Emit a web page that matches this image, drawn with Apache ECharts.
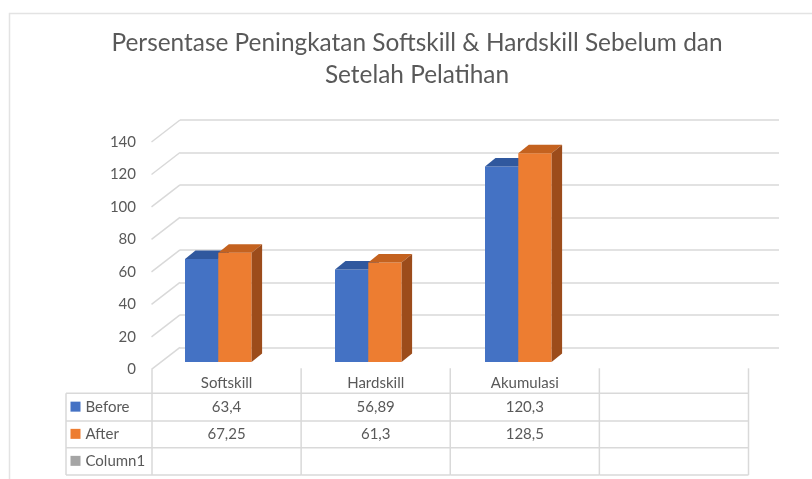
<!DOCTYPE html>
<html>
<head>
<meta charset="utf-8">
<script src="https://cdn.jsdelivr.net/npm/echarts@6/dist/echarts.min.js"></script>
<style>
  html, body { margin: 0; padding: 0; background: #fff; }
  #main { width: 812px; height: 479px; }
</style>
</head>
<body>
<div id="main"></div>
<script>
const categories = ['Softskill', 'Hardskill', 'Akumulasi', ''];
const before = [63.4, 56.89, 120.3, null];
const after = [67.25, 61.3, 128.5, null];
const yTicks = [0, 20, 40, 60, 80, 100, 120, 140];
const rowNames = ['Before', 'After', 'Column1'];

const FONT = 'Lato';
const TXT = '#595959';
const LINE = '#D9D9D9';
const DX = 10.5, DY = -8.5;
const colors = {
  Before: { front: '#4472C4', top: '#30589E', side: '#2C4F8F' },
  After: { front: '#ED7D31', top: '#C4621F', side: '#9C4C1B' },
  Column1: { front: '#A5A5A5' }
};

const myChart = echarts.init(document.getElementById('main'));

function fmt(v) {
  return v == null ? '' : String(v).replace('.', ',');
}

function barItem(name, isLeft) {
  return function (params, api) {
    const idx = api.value(0);
    const v = api.value(1);
    const top = api.coord([idx, v]);
    const base = api.coord([idx, 0]);
    const bw = api.size([1, 0])[0];
    const w = bw * 0.222;
    const x0 = isLeft ? top[0] - w : top[0];
    const x1 = x0 + w;
    const c = colors[name];
    return {
      type: 'group',
      children: [
        { type: 'rect', shape: { x: x0, y: top[1], width: w, height: base[1] - top[1] }, style: { fill: c.front } },
        { type: 'polygon', shape: { points: [[x0, top[1]], [x0 + DX, top[1] + DY], [x1 + DX, top[1] + DY], [x1, top[1]]] }, style: { fill: c.top } },
        { type: 'polygon', shape: { points: [[x1, top[1]], [x1 + DX, top[1] + DY], [x1 + DX, base[1] + DY], [x1, base[1]]] }, style: { fill: c.side } }
      ]
    };
  };
}

function tableItem(params, api) {
  const i = api.value(0);
  const p = api.coord([i, 0]);
  const bw = api.size([1, 0])[0];
  const xl = p[0] - bw / 2, xr = p[0] + bw / 2;
  const y0 = p[1];
  const rows = [y0 + 24, y0 + 51.7, y0 + 78.4, y0 + 105.7];
  const ls = { stroke: LINE, lineWidth: 1.5 };
  const ch = [];
  ch.push({ type: 'line', shape: { x1: xr, y1: y0 - 1, x2: xr, y2: rows[3] }, style: ls });
  rows.forEach(function (y) {
    ch.push({ type: 'line', shape: { x1: xl, y1: y, x2: xr, y2: y }, style: ls });
  });
  const vals = [before[i], after[i]];
  vals.forEach(function (v, r) {
    ch.push({ type: 'text', x: p[0], y: (rows[r] + rows[r + 1]) / 2,
      style: { text: fmt(v), fill: TXT, font: '15px ' + FONT, align: 'center', verticalAlign: 'middle' } });
  });
  if (i === 0) {
    const xh = 66;
    ch.push({ type: 'line', shape: { x1: xl, y1: y0, x2: xl, y2: rows[3] }, style: ls });
    ch.push({ type: 'line', shape: { x1: xh, y1: rows[0], x2: xh, y2: rows[3] }, style: ls });
    rows.forEach(function (y) {
      ch.push({ type: 'line', shape: { x1: xh, y1: y, x2: xl, y2: y }, style: ls });
    });
    rowNames.forEach(function (n, r) {
      const cy = (rows[r] + rows[r + 1]) / 2;
      ch.push({ type: 'rect', shape: { x: 70.5, y: cy - 5.5, width: 10, height: 10 }, style: { fill: colors[n].front } });
      ch.push({ type: 'text', x: 85.5, y: cy,
        style: { text: n, fill: TXT, font: '15px ' + FONT, align: 'left', verticalAlign: 'middle' } });
    });
  }
  return { type: 'group', children: ch };
}

function diagItem(params, api) {
  const p = api.coord([0, api.value(1)]);
  const bw = api.size([1, 0])[0];
  const x = p[0] - bw / 2;
  return { type: 'line', shape: { x1: x, y1: p[1], x2: x - 28.5, y2: p[1] + 22 }, style: { stroke: LINE, lineWidth: 1.5 } };
}

const yBase = { type: 'value', min: 0, max: 140, interval: 20 };

myChart.setOption({
  animation: false,
  graphic: [
    { type: 'rect', shape: { x: 9.5, y: 13.5, width: 900, height: 600 }, style: { fill: 'none', stroke: '#E3E3E3', lineWidth: 1.5 } },
    { type: 'text', x: 417, y: 27,
      style: { text: 'Persentase Peningkatan Softskill & Hardskill Sebelum dan\nSetelah Pela\u200Ctihan',
        fill: TXT, font: '24.4px ' + FONT, align: 'center', verticalAlign: 'top', lineHeight: 32 } }
  ],
  grid: [
    { left: 180, right: 33, top: 120, bottom: 131.7 },
    { left: 143.3, width: 600, top: 134.6, bottom: 117 },
    { left: 152, right: 63.5, top: 141.7, bottom: 109.7 }
  ],
  xAxis: [
    { type: 'category', data: categories, gridIndex: 0, show: false },
    { type: 'category', data: categories, gridIndex: 1, show: false },
    { type: 'category', data: categories, gridIndex: 2,
      axisLine: { show: false }, axisTick: { show: false },
      axisLabel: { color: TXT, fontFamily: FONT, fontSize: 15, margin: 6 } }
  ],
  yAxis: [
    Object.assign({ gridIndex: 0, axisLabel: { show: false }, axisLine: { show: false }, axisTick: { show: false },
      splitLine: { lineStyle: { color: LINE, width: 1.5 } } }, yBase),
    Object.assign({ gridIndex: 1, show: false, splitLine: { show: false } }, yBase),
    Object.assign({ gridIndex: 2, axisLine: { show: false }, axisTick: { show: false }, splitLine: { show: false },
      axisLabel: { color: TXT, fontFamily: FONT, fontSize: 15, margin: 16 } }, yBase)
  ],
  series: [
    { type: 'custom', name: 'grid3d', xAxisIndex: 0, yAxisIndex: 0, renderItem: diagItem,
      data: yTicks.map(function (v) { return [0, v]; }), silent: true },
    { type: 'custom', name: 'Before', xAxisIndex: 1, yAxisIndex: 1, renderItem: barItem('Before', true),
      data: categories.map(function (c, i) { return [i, before[i]]; }).filter(function (d) { return d[1] != null; }) },
    { type: 'custom', name: 'After', xAxisIndex: 1, yAxisIndex: 1, renderItem: barItem('After', false),
      data: categories.map(function (c, i) { return [i, after[i]]; }).filter(function (d) { return d[1] != null; }) },
    { type: 'custom', name: 'table', xAxisIndex: 2, yAxisIndex: 2, renderItem: tableItem,
      data: categories.map(function (c, i) { return [i, 0]; }), silent: true }
  ]
});

window.onresize = function () { myChart.resize(); };
</script>
</body>
</html>
